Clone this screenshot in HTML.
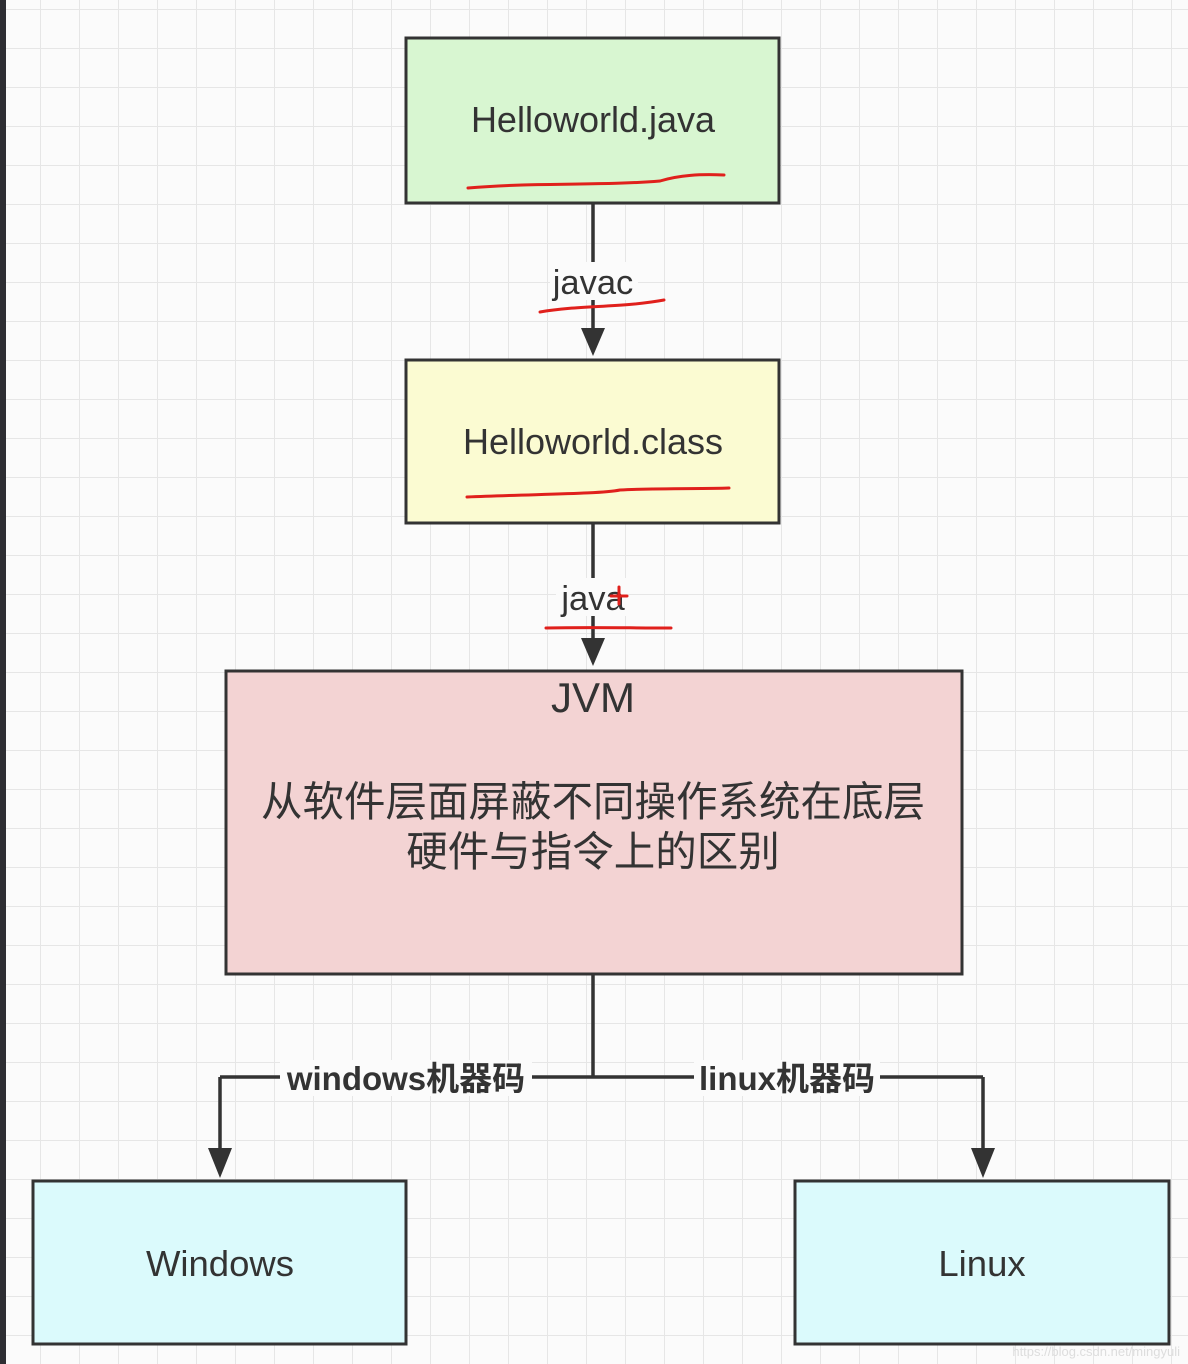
<!DOCTYPE html>
<html><head><meta charset="utf-8"><style>
body{margin:0;width:1188px;height:1364px;overflow:hidden;background:#fff}
svg{display:block}
text{font-family:"Liberation Sans","Noto Sans CJK SC",sans-serif;fill:#333}
</style></head><body>
<svg width="1188" height="1364" xmlns="http://www.w3.org/2000/svg">
<defs>
<pattern id="g" x="1" y="9" width="39" height="39" patternUnits="userSpaceOnUse">
<path d="M0 0H39M0 0V39" stroke="#e6e6e6" stroke-width="2" fill="none"/>
</pattern>
</defs>
<rect width="1188" height="1364" fill="#fbfbfb"/>
<rect width="1188" height="1364" fill="url(#g)"/>
<rect x="0" y="0" width="6" height="1364" fill="#2e2e33"/>
<g stroke="#333" stroke-width="3">
<rect x="406" y="38" width="373" height="165" fill="#d8f6d1"/>
<rect x="406" y="360" width="373" height="163" fill="#fbfbd2"/>
<rect x="226" y="671" width="736" height="303" fill="#f3d3d3"/>
<rect x="33" y="1181" width="373" height="163" fill="#dbfafc"/>
<rect x="795" y="1181" width="374" height="163" fill="#dbfafc"/>
<path d="M593 203V330M593 523V640M593 974V1077M220 1077H983M220 1077V1150M983 1077V1150" fill="none" stroke-width="3.5"/>
</g>
<g fill="#333">
<path d="M581 328L605 328L593 356Z"/>
<path d="M581 638L605 638L593 666Z"/>
<path d="M208 1148L232 1148L220 1178Z"/>
<path d="M971 1148L995 1148L983 1178Z"/>
</g>
<rect x="550" y="262" width="88" height="38" fill="#fbfbfb"/>
<rect x="556" y="578" width="72" height="38" fill="#fbfbfb"/>
<rect x="280" y="1060" width="252" height="36" fill="#fbfbfb"/>
<rect x="694" y="1060" width="186" height="36" fill="#fbfbfb"/>
<text x="593" y="132" font-size="36" text-anchor="middle">Helloworld.java</text>
<text x="593" y="294" font-size="34.5" text-anchor="middle">javac</text>
<text x="593" y="454" font-size="36" text-anchor="middle">Helloworld.class</text>
<text x="593" y="610" font-size="34.5" text-anchor="middle">java</text>
<text x="593" y="712" font-size="42" text-anchor="middle">JVM</text>
<text x="593" y="816" font-size="41.5" text-anchor="middle">从软件层面屏蔽不同操作系统在底层</text>
<text x="593" y="866" font-size="41.5" text-anchor="middle">硬件与指令上的区别</text>
<text x="406" y="1090" font-size="33" font-weight="bold" text-anchor="middle">windows机器码</text>
<text x="787" y="1090" font-size="33" font-weight="bold" text-anchor="middle">linux机器码</text>
<text x="220" y="1276" font-size="36.5" text-anchor="middle">Windows</text>
<text x="982" y="1276" font-size="36.5" text-anchor="middle">Linux</text>
<g stroke="#e0201c" stroke-width="3" fill="none" stroke-linecap="round">
<path d="M468 188C540 182 600 186 660 181C680 175 700 174 724 175"/>
<path d="M540 312C580 305 620 308 664 300"/>
<path d="M467 497C540 494 600 494 620 490C660 488 700 489 729 488"/>
<path d="M546 628C590 627 630 628 671 628"/>
<path d="M611 596H627M619 587V604"/>
</g>
<text x="1180" y="1356" font-size="13" text-anchor="end" style="fill:#ddd">https://blog.csdn.net/mingyuli</text>
</svg>
</body></html>
